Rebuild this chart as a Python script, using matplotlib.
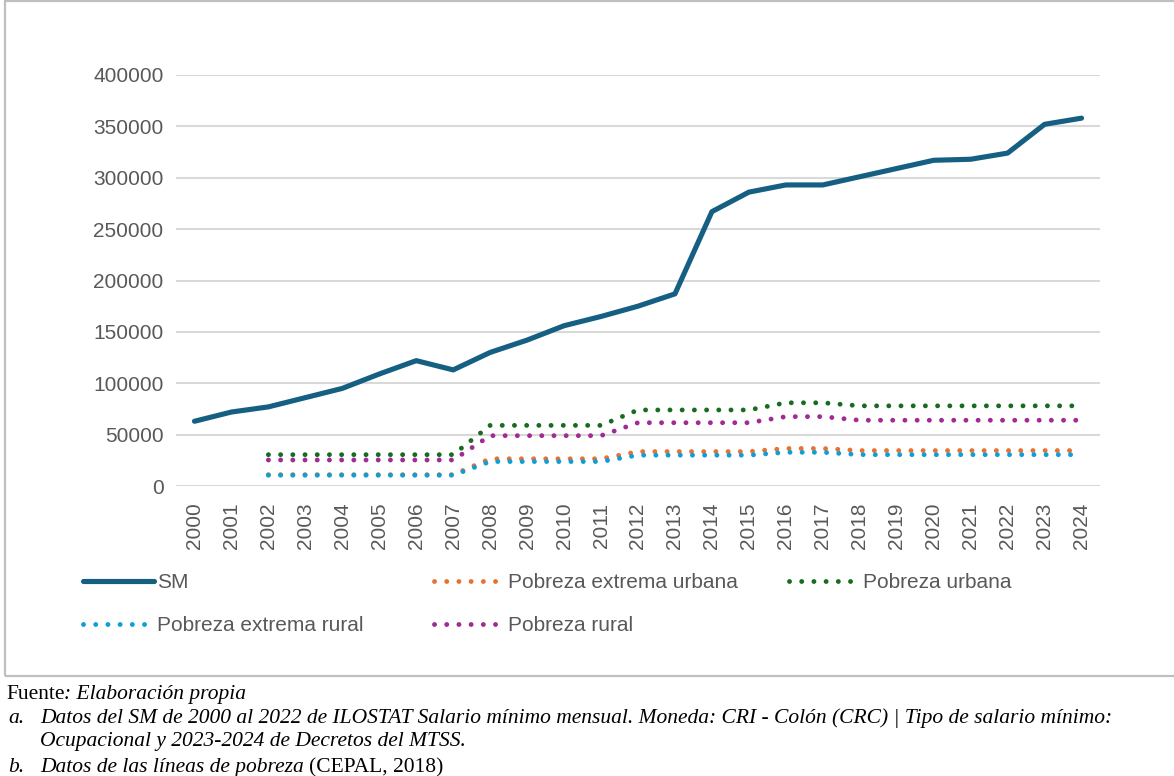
import numpy as np
import matplotlib
matplotlib.use("Agg")
import matplotlib.pyplot as plt
from matplotlib.patches import Rectangle

# ---- data ----
years = [str(y) for y in range(2000, 2025)]
sm = [63000, 72000, 77000, 86000, 95000, 109000, 122000, 113000, 130000, 142000,
      156000, 165000, 175000, 187000, 267000, 286000, 293000, 293000, 301000, 309000,
      317000, 318000, 324000, 352000, 358000]
pov_years = years[2:]
pobreza_ext_urbana = [11000] * 6 + [26500] * 4 + [33500] * 4 + [36500] * 2 + [34500] * 7
pobreza_urbana = [30500] * 6 + [59000] * 4 + [74000] * 4 + [81000] * 2 + [78000] * 7
pobreza_ext_rural = [10500] * 6 + [23800] * 4 + [30000] * 4 + [32800] * 2 + [30500] * 7
pobreza_rural = [25300] * 6 + [49000] * 4 + [61600] * 4 + [67500] * 2 + [64000] * 7

C_SM = "#156082"
C_EU = "#E97132"
C_U = "#196B24"
C_ER = "#0F9ED5"
C_R = "#A02B93"
GRAY = "#595959"

plt.rcParams["font.family"] = ["Liberation Sans", "DejaVu Sans"]

W, H = 1174, 776
fig = plt.figure(figsize=(W / 100, H / 100), dpi=100)
ax = fig.add_axes([176 / W, 1 - 486 / H, (1100 - 176) / W, (486 - 75) / H])

x_all = np.arange(len(years))
x_pov = np.arange(2, len(years))
dots = (0, (0.01, 2.5))
DLW = 3.5

l_sm, = ax.plot(x_all, sm, color=C_SM, lw=3.7, solid_capstyle="round",
                solid_joinstyle="round", label="SM")
l_eu, = ax.plot(x_pov, pobreza_ext_urbana, color=C_EU, lw=DLW, ls=dots,
                dash_capstyle="round", label="Pobreza extrema urbana")
l_u, = ax.plot(x_pov, pobreza_urbana, color=C_U, lw=DLW, ls=dots,
               dash_capstyle="round", label="Pobreza urbana")
l_er, = ax.plot(x_pov, pobreza_ext_rural, color=C_ER, lw=DLW, ls=dots,
                dash_capstyle="round", label="Pobreza extrema rural")
l_r, = ax.plot(x_pov, pobreza_rural, color=C_R, lw=DLW, ls=dots,
               dash_capstyle="round", label="Pobreza rural")

ax.set_xlim(-0.5, len(years) - 0.5)
ax.set_ylim(0, 400000)
ax.set_yticks(range(0, 400001, 50000))
ax.set_yticklabels([str(v) for v in range(0, 400001, 50000)])
ax.set_xticks(x_all)
ax.set_xticklabels(years, rotation=90)
ax.tick_params(axis="both", length=0, labelsize=15, labelcolor=GRAY)
ax.tick_params(axis="y", pad=9)
ax.tick_params(axis="x", pad=12)
ax.grid(axis="y", color="#d9d9d9", lw=1.5)
ax.set_axisbelow(True)
for s in ax.spines.values():
    s.set_visible(False)

# legend: three columns placed separately
leg_kw = dict(loc="upper left", frameon=False, fontsize=15, labelcolor=GRAY,
              handlelength=3.4, handletextpad=0.15, labelspacing=1.15,
              borderaxespad=0, borderpad=0)
lg1 = fig.legend(handles=[l_sm, l_er], bbox_to_anchor=(83 / W, 1 - 573 / H), **leg_kw)
lg2 = fig.legend(handles=[l_eu, l_r], bbox_to_anchor=(434 / W, 1 - 573 / H), **leg_kw)
lg3 = fig.legend(handles=[l_u], bbox_to_anchor=(789 / W, 1 - 573 / H), **leg_kw)

# chart border
fig.patches.append(Rectangle((5 / W, 1 - 676 / H), 1.2, 675 / H, transform=fig.transFigure,
                             fill=False, edgecolor="#bfbfbf", lw=1.6))

# caption below the chart
renderer = fig.canvas.get_renderer()


def runs(x, y, parts, size=15.5):
    for txt, style in parts:
        t = fig.text(x / W, 1 - y / H, txt, fontsize=size, style=style, color="black",
                     family=["Liberation Serif", "DejaVu Serif"], va="baseline")
        x += t.get_window_extent(renderer).width


runs(6, 699, [("Fuente", "normal"), (": Elaboración propia", "italic")])
runs(8, 723, [("a.", "italic")])
runs(40, 723, [("Datos del SM de 2000 al 2022 de ILOSTAT Salario mínimo mensual. Moneda: CRI - Colón (CRC) | Tipo de salario mínimo:", "italic")])
runs(40, 746, [("Ocupacional y 2023-2024 de Decretos del MTSS.", "italic")])
runs(8, 772, [("b.", "italic")])
runs(40, 772, [("Datos de las líneas de pobreza ", "italic"), ("(CEPAL, 2018)", "normal")])

fig.savefig("out.png", dpi=100)
